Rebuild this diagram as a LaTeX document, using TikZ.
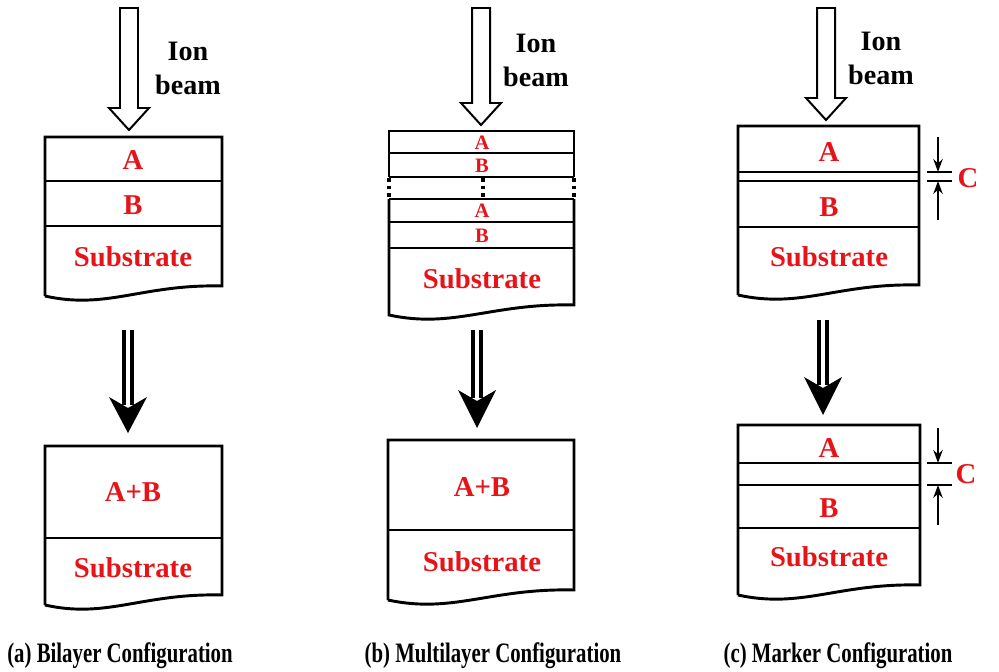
\documentclass[tikz,border=0pt]{standalone}
\usepackage{fontspec}
\usepackage{graphicx}
\setmainfont{Liberation Serif}[BoldFont={Liberation Serif Bold}]
\usetikzlibrary{positioning,arrows.meta}
\definecolor{layerRed}{RGB}{230,20,25}

\begin{document}
\begin{tikzpicture}[x=0.03cm, y=-0.03cm, font=\bfseries]

		\useasboundingbox (0,0) rectangle (999,672);

		\tikzstyle{layer} = [black, line width=2.5pt, line join=miter]
		\tikzstyle{gapDots} = [black, line width=2.8pt, dash pattern=on 3pt off 3.6pt]
		\tikzstyle{lab} = [text=layerRed, inner sep=0pt, font=\fontsize{24.5}{29}\selectfont\bfseries]
		\tikzstyle{labSmall} = [text=layerRed, inner sep=0pt, font=\fontsize{17.5}{20}\selectfont\bfseries]
		\tikzstyle{beamText} = [align=center, inner sep=0pt, font=\fontsize{24}{29}\selectfont\bfseries]
		\tikzstyle{beam} = [draw, line width=1.7pt, fill=white, line join=miter]
		\tikzstyle{process} = [black, line width=3.4pt, double distance=3.4pt, double=white]
		\tikzstyle{marker} = [black, line width=1.6pt]
		\tikzstyle{markerArrow} = [marker, -{Stealth[length=11pt, width=8pt]}]
		\tikzstyle{caption} = [inner sep=0pt, font=\fontsize{24}{28}\selectfont\bfseries]

		% Ion beam
		\foreach \x/\tip in {129/130, 481/125, 826/120}
			\draw[beam] (\x-9,8) -- (\x-9,\tip-22) -- (\x-20,\tip-22) -- (\x,\tip)
				-- (\x+20,\tip-22) -- (\x+9,\tip-22) -- (\x+9,8) -- cycle;
		\node[beamText] (beamA) at (188,68) {Ion\\beam};
		\node[beamText] (beamB) at (536,60) {Ion\\beam};
		\node[beamText] (beamC) at (881,58) {Ion\\beam};

		% Sample outlines with cut substrate
		\foreach \l/\r/\t/\b in {45/222/137/296, 45/222/446/605, 388/574/440/600,
				738/919/126/295, 738/920/425/595}
			\draw[layer] (\l,\b) -- (\l,\t) -- (\r,\t) -- (\r,\b-10)
				.. controls ({\l+0.55*(\r-\l)},\b-12) and ({\l+0.35*(\r-\l)},\b+14) .. (\l,\b);

		% Multilayer outline, broken by the repeated stack
		\draw[layer] (389,177) -- (389,131) -- (574,131) -- (574,177);
		\draw[layer] (574,199) -- (574,305)
			.. controls (491,303) and (454,329) .. (389,315) -- (389,199);
		\foreach \x in {389, 483, 574}
			\draw[gapDots] (\x,178) -- (\x,199);

		% Interfaces
		\foreach \l/\r/\y in {45/222/181, 45/222/226, 45/222/538,
				389/574/153, 389/574/177, 389/574/199, 389/574/222, 389/574/248, 388/574/530,
				738/919/172, 738/919/181, 738/919/227, 738/920/463, 738/920/485, 738/920/528}
			\draw[layer] (\l,\y) -- (\r,\y);

		% Layer labels
		\node[lab] (a_A) at (133,160) {A};
		\node[lab] (a_B) at (133,205) {B};
		\node[lab] (a_sub) at (133,257) {Substrate};
		\node[lab] (a_mix) at (133,492) {A+B};
		\node[lab] (a_sub2) at (133,568) {Substrate};

		\node[labSmall] (b_A1) at (482,143) {A};
		\node[labSmall] (b_B1) at (482,166) {B};
		\node[labSmall] (b_A2) at (482,211) {A};
		\node[labSmall] (b_B2) at (482,236) {B};
		\node[lab] (b_sub) at (482,279) {Substrate};
		\node[lab] (b_mix) at (482,487) {A+B};
		\node[lab] (b_sub2) at (482,562) {Substrate};

		\node[lab] (c_A) at (829,152) {A};
		\node[lab] (c_B) at (829,207) {B};
		\node[lab] (c_sub) at (829,257) {Substrate};
		\node[lab] (c_A2) at (829,448) {A};
		\node[lab] (c_B2) at (829,508) {B};
		\node[lab] (c_sub2) at (829,557) {Substrate};

		% Processing arrows
		\foreach \x/\top/\base/\tip in {128/330/397/433, 477/330/390/428, 823/320/377/415} {
			\draw[process] (\x,\top) -- (\x,\base+8);
			\fill[black] (\x,\tip) -- (\x-19,\base) -- (\x,\base+11) -- (\x+19,\base) -- cycle;
		}

		% Marker thickness C
		\coordinate (c1_top) at (938,172);
		\coordinate (c1_bot) at (938,181);
		\coordinate (c2_top) at (938,463);
		\coordinate (c2_bot) at (938,485);
		\foreach \p in {c1_top, c1_bot, c2_top, c2_bot}
			\draw[marker] (\p) ++(-11,0) -- ++(25,0);
		\draw[markerArrow] (938,137) -- (c1_top);
		\draw[markerArrow] (938,220) -- (c1_bot);
		\draw[markerArrow] (938,428) -- (c2_top);
		\draw[markerArrow] (938,525) -- (c2_bot);
		\node[lab] (c_C1) at (968,178) {C};
		\node[lab] (c_C2) at (966,474) {C};

		% Captions
		\node[caption] (capA) at (120,656) {\scalebox{0.74}[1]{(a) Bilayer Configuration}};
		\node[caption] (capB) at (493,656) {\scalebox{0.74}[1]{(b) Multilayer Configuration}};
		\node[caption] (capC) at (838,656) {\scalebox{0.74}[1]{(c) Marker Configuration}};

\end{tikzpicture}
\end{document}
